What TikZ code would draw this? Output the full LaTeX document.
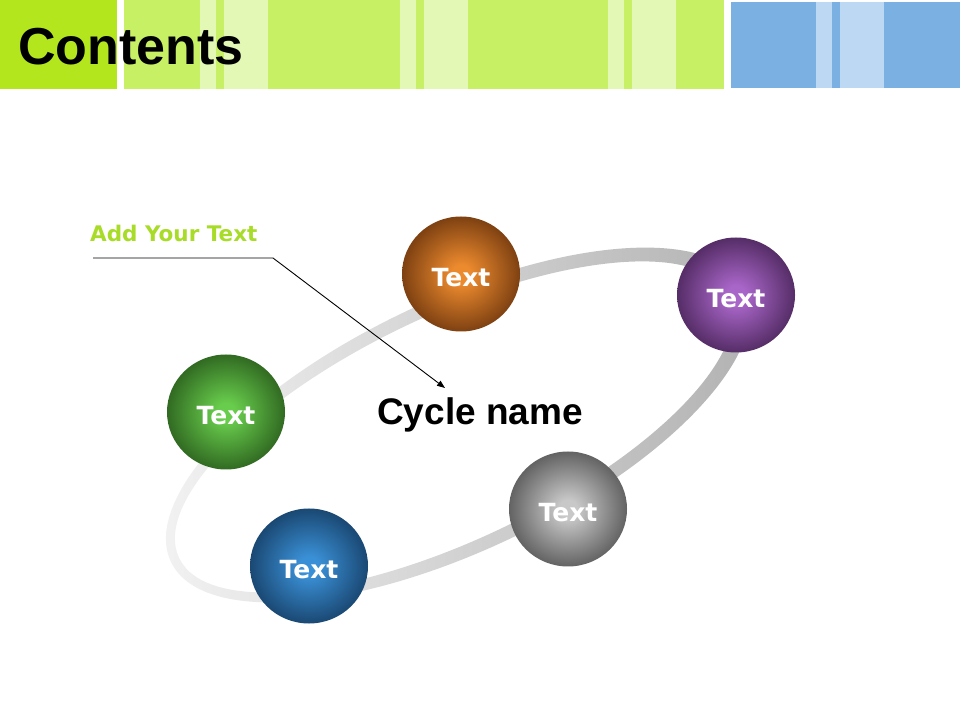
\documentclass[tikz,border=0pt]{standalone}
\usepackage{fontspec}
\setmainfont{Liberation Sans}
\newfontfamily\verdana{DejaVu Sans}
\usepackage{tikz}
\usetikzlibrary{arrows.meta,shapes.geometric}
\definecolor{Lime}{HTML}{B3E61C}
\definecolor{LimeMid}{HTML}{C8F064}
\definecolor{LimePale}{HTML}{E2F8B4}
\definecolor{Sky}{HTML}{7BB0E2}
\definecolor{SkyPale}{HTML}{BDD8F2}
\definecolor{Note}{HTML}{A8DC28}
\definecolor{RingLo}{HTML}{F4F4F4}
\definecolor{RingHi}{HTML}{B0B0B0}
\definecolor{OrIn}{HTML}{EC8A2E}
\definecolor{OrOut}{HTML}{4A1E04}
\definecolor{PuIn}{HTML}{A966C9}
\definecolor{PuOut}{HTML}{2E1238}
\definecolor{GrIn}{HTML}{68CC4C}
\definecolor{GrOut}{HTML}{173C0E}
\definecolor{GyIn}{HTML}{C8C8C8}
\definecolor{GyOut}{HTML}{333333}
\definecolor{BlIn}{HTML}{3A90D6}
\definecolor{BlOut}{HTML}{0B2644}
\colorlet{ballin}{white}
\colorlet{ballout}{black}
\pgfdeclareradialshading[ballin,ballout]{sphere}{\pgfpoint{0bp}{0bp}}{color(0bp)=(ballin); color(4bp)=(ballin); color(35bp)=(ballout); color(50bp)=(ballout)}
\tikzset{
  ball/.style 2 args={ellipse,shade,shading=sphere,
    /utils/exec={\colorlet{ballin}{#1}\colorlet{ballout}{#2}},
    minimum width=118pt,minimum height=115pt,inner sep=0pt,
    text=white,text height=25pt,font=\verdana\bfseries\fontsize{25}{25}\selectfont}
}

\begin{document}
\begin{tikzpicture}[x=1pt,y=1pt]
\useasboundingbox (0,0) rectangle (960,720);
\fill[white] (0,0) rectangle (960,720);
\fill[Lime] (0,631) rectangle (117,720);
\fill[LimeMid] (124,631) rectangle (724,720);
\foreach \a/\b in {200/216,224/268,400/416,424/468,608/624,632/676}{
  \fill[LimePale] (\a,631) rectangle (\b,720);
}
\fill[Sky] (731,632) rectangle (960,718);
\foreach \a/\b in {816/832,840/884}{
  \fill[SkyPale] (\a,632) rectangle (\b,718);
}
\node[anchor=base west,inner sep=0pt,font=\bfseries\fontsize{52}{52}\selectfont] (title) at (18,655) {Contents};
\begin{scope}[shift={(458,295)},rotate=25.5]
\path[even odd rule,left color=RingLo,right color=RingHi]
  (0,0) ellipse [x radius=318,y radius=125]
  (-4.5,0) ellipse [x radius=304.5,y radius=112];
\end{scope}
\node[ball={OrIn}{OrOut}] (top) at (461,446) {Text};
\node[ball={PuIn}{PuOut}] (right) at (736,425) {Text};
\node[ball={GrIn}{GrOut}] (left) at (226,308) {Text};
\node[ball={GyIn}{GyOut}] (low) at (568,211) {Text};
\node[ball={BlIn}{BlOut}] (bottom) at (309,154) {Text};
\node[anchor=base,inner sep=0pt,font=\bfseries\fontsize{37}{37}\selectfont] (cycle) at (480,295) {Cycle name};
\node[anchor=base west,inner sep=0pt,text=Note,font=\verdana\bfseries\fontsize{21.5}{21.5}\selectfont] (note) at (90,478) {Add Your Text};
\coordinate (lead) at (93,462);
\coordinate (bend) at (273,462);
\coordinate (tip) at (445,332);
\draw[line width=0.9pt,-{Triangle[length=8pt,width=6pt]}] (lead) -- (bend) -- (tip);
\end{tikzpicture}
\end{document}
